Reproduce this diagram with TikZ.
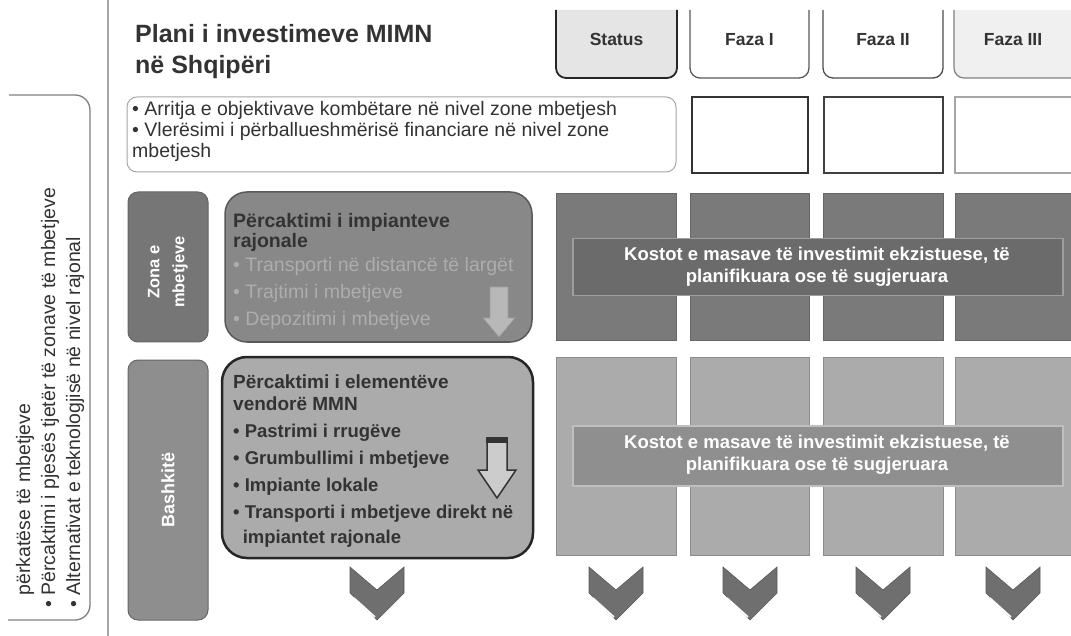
\documentclass[tikz,border=0pt]{standalone}
\usepackage{fontspec}
\setmainfont{Liberation Sans}
\definecolor{ink}{HTML}{333333}
\definecolor{zlabc}{HTML}{767676}
\definecolor{zboxc}{HTML}{888888}
\definecolor{blabc}{HTML}{8E8E8E}
\definecolor{bboxc}{HTML}{ABABAB}
\definecolor{colA}{HTML}{7A7A7A}
\definecolor{colB}{HTML}{ABABAB}
\definecolor{bandA}{HTML}{6B6B6B}
\definecolor{bandB}{HTML}{8F8F8F}
\definecolor{chevc}{HTML}{6F6F6F}
\definecolor{zbul}{HTML}{ADADAD}
\newcommand{\fs}[2]{\fontsize{#1}{#2}\selectfont}
\begin{document}
\begin{tikzpicture}[x=1pt,y=-1pt,
  txt/.style={inner sep=0, anchor=base west},
  tabt/.style={inner sep=0, anchor=base, font=\bfseries\fs{17.5}{20}, text=ink},
  colboxA/.style={draw=black!60, line width=.8, fill=colA, minimum width=120, minimum height=147, anchor=north west, inner sep=0, outer sep=0},
  colboxB/.style={draw=black!45, line width=.8, fill=colB, minimum width=120, minimum height=198, anchor=north west, inner sep=0, outer sep=0},
  lblbox/.style={draw=black!60, line width=1, rounded corners=10, minimum width=80, anchor=north west, inner sep=0, outer sep=0},
  lbltxt/.style={rotate=90, align=center, text=white, inner sep=0},
  bandtxt/.style={align=center, text=white, font=\bfseries\fs{18.5}{22.5}, inner sep=0},
  sidetxt/.style={txt, rotate=90, font=\fs{19.5}{20}, text=ink},
  infotxt/.style={txt, font=\fs{19.5}{21}, text=ink},
  chevron/.pic={
    \filldraw[fill=chevc, draw=black!65, line width=.6] (-27,0) -- (0,23) -- (27,0) -- (27,26) -- (0,53) -- (-27,26) -- cycle;
    \draw[white, line width=1.6] (-23,31) -- (-2,50);
  }]
\fill[white] (0,0) rectangle (1071,636);
\useasboundingbox (0,0) rectangle (1071,636);
\clip (0,0) rectangle (1071,636);

% left bracket and separator
\draw[black!35, line width=1.2] (108,0) -- (108,636);
\draw[black!50, line width=1.3, rounded corners=15] (9,95) -- (90,95) -- (90,620) -- (8,620);
\node[sidetxt] (lt1) at (30,608) {\hphantom{\textbullet\ }përkatëse të mbetjeve};
\node[sidetxt] (lt2) at (55,608) {\textbullet\ Përcaktimi i pjesës tjetër të zonave të mbetjeve};
\node[sidetxt] (lt3) at (80,608) {\textbullet\ Alternativat e teknologjisë në nivel rajonal};

% title
\node[txt, font=\bfseries\fs{25}{30}, text=ink] (title1) at (135,43) {Plani i investimeve MIMN};
\node[txt, font=\bfseries\fs{25}{30}, text=ink] (title2) at (135,74) {në Shqipëri};

% header tabs
\filldraw[fill=black!10, draw=black!85, line width=1.8, rounded corners=10] (556,10) -- (556,78) -- (677,78) -- (677,10);
\filldraw[fill=white, draw=black!65, line width=1.3, rounded corners=10] (690,10) -- (690,78) -- (809,78) -- (809,10);
\filldraw[fill=white, draw=black!70, line width=1.3, rounded corners=10] (823,10) -- (823,78) -- (943,78) -- (943,10);
\filldraw[fill=black!6, draw=black!50, line width=1.2, rounded corners=10] (954,10) -- (954,78) -- (1085,78) -- (1085,10);
\node[tabt] (tstatus) at (616.5,46) {Status};
\node[tabt] (tf1) at (749.5,46) {Faza I};
\node[tabt] (tf2) at (883,46) {Faza II};
\node[tabt] (tf3) at (1013,46) {Faza III};

% info row
\draw[black!35, line width=1, rounded corners=10] (127,97) rectangle (676,172);
\node[infotxt] (i1) at (132,116) {\textbullet\ Arritja e objektivave kombëtare në nivel zone mbetjesh};
\node[infotxt] (i2) at (132,137) {\textbullet\ Vlerësimi i përballueshmërisë financiare në nivel zone};
\node[infotxt] (i3) at (132,158) {mbetjesh};
\draw[black!80, line width=1.6] (692,97) rectangle (808,173);
\draw[black!75, line width=1.4] (824,97) rectangle (943,173);
\draw[black!35, line width=1.1] (955,97) rectangle (1080,173);

% Zona row
\node[lblbox, fill=zlabc, minimum height=150] (zlab) at (128,192) {};
\node[lbltxt, font=\bfseries\fs{16.5}{25}] (zlabt) at (168,272) {Zona e\\mbetjeve};
\node[draw=black!65, line width=1.5, fill=zboxc, rounded corners=22, minimum width=307, minimum height=150, anchor=north west, inner sep=0, outer sep=0] (zbox) at (225,192) {};
\node[txt, font=\bfseries\fs{19.5}{20}, text=ink] (z1) at (233,228) {Përcaktimi i impianteve};
\node[txt, font=\bfseries\fs{19.5}{20}, text=ink] (z2) at (233,248) {rajonale};
\node[txt, font=\fs{19.5}{20}, text=zbul] (z3) at (233,272) {\textbullet\ Transporti në distancë të largët};
\node[txt, font=\fs{19.5}{20}, text=zbul] (z4) at (233,299) {\textbullet\ Trajtimi i mbetjeve};
\node[txt, font=\fs{19.5}{20}, text=zbul] (z5) at (233,326) {\textbullet\ Depozitimi i mbetjeve};
\filldraw[fill=black!28, draw=black!40, line width=.6] (490,287) -- (508,287) -- (508,318) -- (515,318) -- (499,337) -- (483,318) -- (490,318) -- cycle;

% Bashkite row
\node[lblbox, fill=blabc, minimum height=260] (blab) at (128,360) {};
\node[lbltxt, font=\bfseries\fs{18}{22}] (blabt) at (168,490) {Bashkitë};
\node[draw=black!85, line width=2.5, fill=bboxc, rounded corners=25, minimum width=311, minimum height=201, anchor=north west, inner sep=0, outer sep=0] (bbox) at (222,357) {};
\node[txt, font=\bfseries\fs{19}{20}, text=ink] (b1) at (233,388) {Përcaktimi i elementëve};
\node[txt, font=\bfseries\fs{19}{20}, text=ink] (b2) at (233,410) {vendorë MMN};
\node[txt, font=\bfseries\fs{18.5}{20}, text=ink] (b3) at (233,437) {\textbullet\ Pastrimi i rrugëve};
\node[txt, font=\bfseries\fs{18.5}{20}, text=ink] (b4) at (233,464) {\textbullet\ Grumbullimi i mbetjeve};
\node[txt, font=\bfseries\fs{18.5}{20}, text=ink] (b5) at (233,491) {\textbullet\ Impiante lokale};
\node[txt, font=\bfseries\fs{18.5}{20}, text=ink] (b6) at (233,518) {\textbullet\ Transporti i mbetjeve direkt në};
\node[txt, font=\bfseries\fs{18.5}{20}, text=ink] (b7) at (233,543) {\hphantom{\textbullet}\,impiantet rajonale};
\filldraw[fill=black!20, draw=black!80, line width=1.5] (487,440) -- (507,440) -- (507,470) -- (516,470) -- (497,498) -- (478,470) -- (487,470) -- cycle;
\fill[black!80] (486.25,437) rectangle (507.75,443);

% cost columns, upper row
\node[colboxA] (ua) at (556,193) {};
\node[colboxA, minimum width=119] (ub) at (690,193) {};
\node[colboxA] (uc) at (823,193) {};
\node[colboxA] (ud) at (955,193) {};
\node[draw=black!38, line width=1.5, fill=bandA, minimum width=490, minimum height=57, anchor=north west, inner sep=0] (bandU) at (572,238) {};
\node[bandtxt] (bandUt) at (817,267) {Kostot e masave të investimit ekzistuese, të\\planifikuara ose të sugjeruara};

% cost columns, lower row
\node[colboxB] (la) at (556,357) {};
\node[colboxB, minimum width=119] (lb) at (690,357) {};
\node[colboxB] (lc) at (823,357) {};
\node[colboxB] (ld) at (955,357) {};
\node[draw=black!25, line width=1.5, fill=bandB, minimum width=490, minimum height=60, anchor=north west, inner sep=0] (bandL) at (572,425) {};
\node[bandtxt] (bandLt) at (817,455) {Kostot e masave të investimit ekzistuese, të\\planifikuara ose të sugjeruara};

% chevrons
\pic (c0) at (377,567) {chevron};
\pic (c1) at (616,567) {chevron};
\pic (c2) at (750,567) {chevron};
\pic (c3) at (883,567) {chevron};
\pic (c4) at (1013,567) {chevron};
\end{tikzpicture}
\end{document}
